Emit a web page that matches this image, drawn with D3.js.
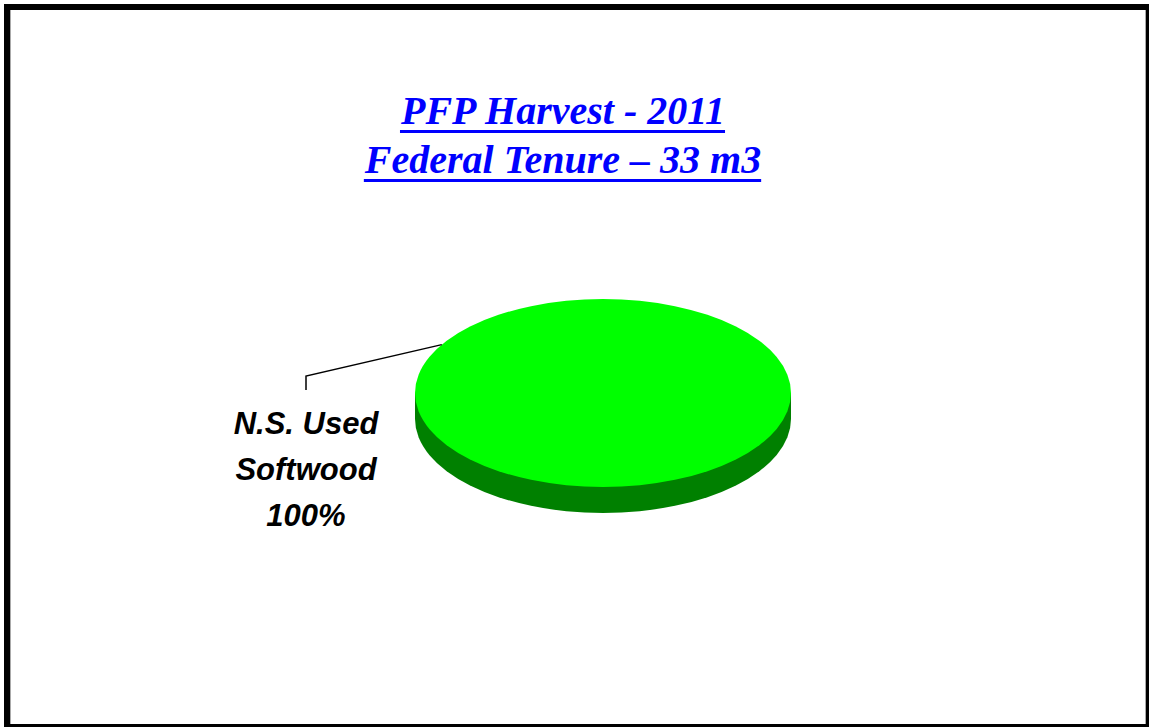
<!DOCTYPE html>
<html>
<head>
<meta charset="utf-8">
<script src="https://cdn.jsdelivr.net/npm/d3@7"></script>
<style>
  html, body { margin: 0; padding: 0; background: #fff; overflow: hidden; }
  #chart { width: 1149px; height: 727px; }
</style>
</head>
<body>
<div id="chart"></div>
<script>
const titleLines = ["PFP Harvest - 2011", "Federal Tenure \u2013 33 m3"];
const categories = ["N.S. Used Softwood"];
const values = [100];
const labelLines = [["N.S. Used", "Softwood", "100%"]];
const topColors = ["#00ff00"];
const sideColors = ["#008000"];

const w = 1149, h = 727;
const cx = 603, cy = 393, rx = 188, ry = 94, depth = 26;

const svg = d3.select("#chart")
  .append("svg")
  .attr("width", w)
  .attr("height", h);

svg.append("rect").attr("width", w).attr("height", h).attr("fill", "#fff");

// frame
svg.append("rect")
  .attr("x", 7).attr("y", 7)
  .attr("width", w - 7).attr("height", h - 7)
  .attr("fill", "none")
  .attr("stroke", "#000")
  .attr("stroke-width", 6);
svg.append("line").attr("x1", 10.5).attr("x2", 10.5).attr("y1", 10).attr("y2", 724)
  .attr("stroke", "#aaa").attr("stroke-width", 1);
svg.append("line").attr("x1", 1145.5).attr("x2", 1145.5).attr("y1", 10).attr("y2", 724)
  .attr("stroke", "#aaa").attr("stroke-width", 1);

// title
const title = svg.append("g");
titleLines.forEach((t, i) => {
  const txt = title.append("text")
    .attr("x", 563)
    .attr("y", 124 + i * 49)
    .attr("text-anchor", "middle")
    .attr("font-family", "'Liberation Serif', 'Times New Roman', serif")
    .attr("font-weight", "bold")
    .attr("font-style", "italic")
    .attr("font-size", 40)
    .attr("fill", "#0000ff")
    .text(t);
  const bb = txt.node().getBBox();
  title.append("rect")
    .attr("x", bb.x).attr("y", 124 + i * 49 + 6)
    .attr("width", bb.width).attr("height", 3)
    .attr("fill", "#0000ff");
});

// 3D pie
const pie = d3.pie().sort(null).value(d => d)(values);
const arc = d3.arc().innerRadius(0).outerRadius(1);

// side (extruded)
const side = svg.append("g");
pie.forEach((p, i) => {
  side.append("path")
    .attr("transform", `translate(${cx},${cy + depth}) scale(${rx},${ry})`)
    .attr("d", arc(p))
    .attr("fill", sideColors[i]);
  side.append("rect")
    .attr("x", cx - rx).attr("y", cy)
    .attr("width", 2 * rx).attr("height", depth)
    .attr("fill", sideColors[i]);
});

// top
svg.append("g")
  .selectAll("path")
  .data(pie)
  .enter()
  .append("path")
  .attr("transform", `translate(${cx},${cy}) scale(${rx},${ry})`)
  .attr("d", arc)
  .attr("fill", (d, i) => topColors[i]);

// label + leader
const labelAngle = -1.03;
const lx0 = cx + rx * Math.sin(labelAngle);
const ly0 = cy - ry * Math.cos(labelAngle);
const labelX = 306;
svg.append("path")
  .attr("d", `M${lx0},${ly0} L${labelX},376 L${labelX},390`)
  .attr("fill", "none")
  .attr("stroke", "#000")
  .attr("stroke-width", 1.5);

labelLines[0].forEach((t, i) => {
  svg.append("text")
    .attr("x", labelX)
    .attr("y", 434 + i * 46)
    .attr("text-anchor", "middle")
    .attr("font-family", "'Liberation Sans', Arial, sans-serif")
    .attr("font-weight", "bold")
    .attr("font-style", "italic")
    .attr("font-size", 31)
    .attr("fill", "#000")
    .text(t);
});
</script>
</body>
</html>
